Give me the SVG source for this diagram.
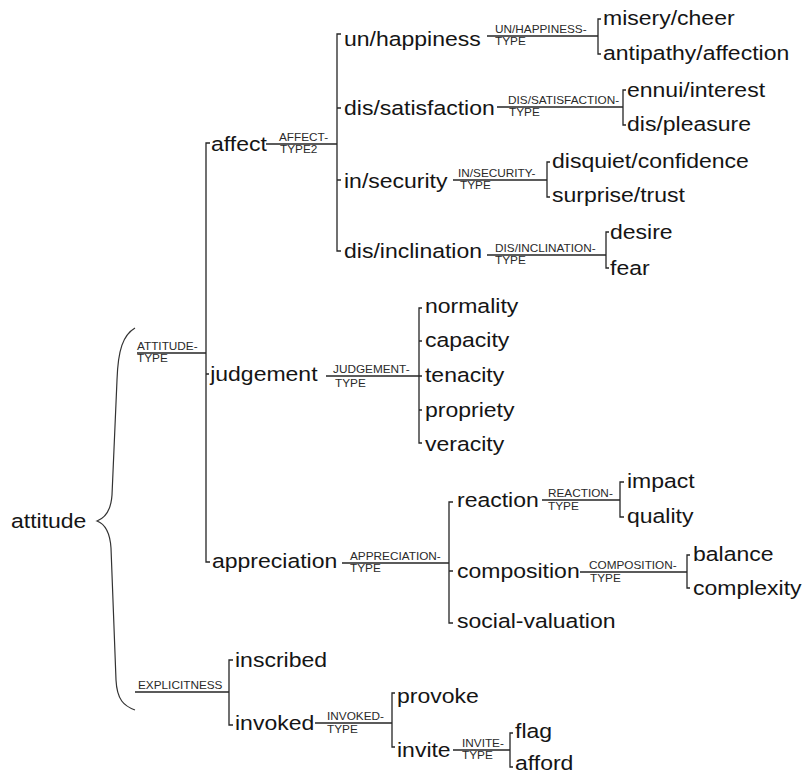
<svg xmlns="http://www.w3.org/2000/svg" width="803" height="779" viewBox="0 0 803 779">
  <style>
    .n { font-family: "Liberation Sans", Arial, sans-serif; font-size: 19.5px; fill: #151515;
         transform: scaleX(1.18); transform-box: fill-box; transform-origin: 0 0; }
    .s { font-family: "Liberation Sans", Arial, sans-serif; font-size: 10px; fill: #2a2a2a;
         transform: scaleX(1.18); transform-box: fill-box; transform-origin: 0 0; }
    .ln { fill: none; stroke: #262626; stroke-width: 1.3; }
    .br { fill: none; stroke: #333; stroke-width: 1.2; }
  </style>
  <rect width="803" height="779" fill="#ffffff"/>

  <!-- connectors: system lines, bracket bars and the brace -->
  <g id="connectors">
    <path class="br" d="M135,328 C123,335 118,350 117,380 L112,495 C111,510 105,518 97,521 C105,524 110,533 111,548 L116,680 C117,700 124,706 135,710"/>

    <!-- ATTITUDE-TYPE -->
    <path class="ln" d="M137,353 H206 M210,143 H206 V562 H210 M206,374 H209"/>
    <!-- AFFECT-TYPE2 -->
    <path class="ln" d="M266,144 H337 M341,34 H337 V251 H341 M337,108 H341 M337,180 H341"/>
    <!-- UN/HAPPINESS-TYPE -->
    <path class="ln" d="M487,36 H598 M601,19 H598 V54 H601"/>
    <!-- DIS/SATISFACTION-TYPE -->
    <path class="ln" d="M497,107 H623 M626,90 H623 V125 H626"/>
    <!-- IN/SECURITY-TYPE -->
    <path class="ln" d="M453,180 H547 M550,162 H547 V197 H550"/>
    <!-- DIS/INCLINATION-TYPE -->
    <path class="ln" d="M487,255 H606 M609,232 H606 V268 H609"/>
    <!-- JUDGEMENT-TYPE -->
    <path class="ln" d="M326,376 H422 M422,308 H419 V443 H422 M419,341 H422 M419,410 H422"/>
    <!-- APPRECIATION-TYPE -->
    <path class="ln" d="M342,563 H449 M453,502 H449 V623 H453 M449,571 H453"/>
    <!-- REACTION-TYPE -->
    <path class="ln" d="M542,500 H620 M624,482 H620 V517 H624"/>
    <!-- COMPOSITION-TYPE -->
    <path class="ln" d="M580,572 H687 M690,555 H687 V588 H690"/>
    <!-- EXPLICITNESS -->
    <path class="ln" d="M135,692 H229 M233,660 H229 V725 H233"/>
    <!-- INVOKED-TYPE -->
    <path class="ln" d="M315,723 H392 M395,693 H392 V747 H395"/>
    <!-- INVITE-TYPE -->
    <path class="ln" d="M453,750 H510 M513,733 H510 V767 H513"/>

    <g id="system-labels">
      <text class="s" x="137" y="350">ATTITUDE-</text>
      <text class="s" x="137" y="362">TYPE</text>
      <text class="s" x="279" y="141">AFFECT-</text>
      <text class="s" x="280" y="153">TYPE2</text>
      <text class="s" x="495" y="33">UN/HAPPINESS-</text>
      <text class="s" x="495" y="45">TYPE</text>
      <text class="s" x="508" y="104">DIS/SATISFACTION-</text>
      <text class="s" x="509" y="116">TYPE</text>
      <text class="s" x="458" y="177">IN/SECURITY-</text>
      <text class="s" x="460" y="189">TYPE</text>
      <text class="s" x="495" y="252">DIS/INCLINATION-</text>
      <text class="s" x="495" y="264">TYPE</text>
      <text class="s" x="333" y="373">JUDGEMENT-</text>
      <text class="s" x="335" y="387">TYPE</text>
      <text class="s" x="350" y="560">APPRECIATION-</text>
      <text class="s" x="350" y="572">TYPE</text>
      <text class="s" x="548" y="497">REACTION-</text>
      <text class="s" x="548" y="510">TYPE</text>
      <text class="s" x="589" y="569">COMPOSITION-</text>
      <text class="s" x="590" y="582">TYPE</text>
      <text class="s" x="138" y="689">EXPLICITNESS</text>
      <text class="s" x="327" y="720">INVOKED-</text>
      <text class="s" x="327" y="733">TYPE</text>
      <text class="s" x="462" y="747">INVITE-</text>
      <text class="s" x="462" y="759">TYPE</text>
    </g>
  </g>

  <!-- nodes -->
  <g id="attitude"><text class="n" x="11" y="528">attitude</text></g>

  <g id="affect"><text class="n" x="211" y="151">affect</text></g>
  <g id="un-happiness"><text class="n" x="344" y="46">un/happiness</text></g>
  <g id="misery-cheer"><text class="n" x="603" y="25">misery/cheer</text></g>
  <g id="antipathy-affection"><text class="n" x="603" y="60">antipathy/affection</text></g>
  <g id="dis-satisfaction"><text class="n" x="344" y="115">dis/satisfaction</text></g>
  <g id="ennui-interest"><text class="n" x="627" y="97">ennui/interest</text></g>
  <g id="dis-pleasure"><text class="n" x="627" y="131">dis/pleasure</text></g>
  <g id="in-security"><text class="n" x="344" y="188">in/security</text></g>
  <g id="disquiet-confidence"><text class="n" x="552" y="168">disquiet/confidence</text></g>
  <g id="surprise-trust"><text class="n" x="552" y="202">surprise/trust</text></g>
  <g id="dis-inclination"><text class="n" x="344" y="258">dis/inclination</text></g>
  <g id="desire"><text class="n" x="610" y="239">desire</text></g>
  <g id="fear"><text class="n" x="610" y="275">fear</text></g>

  <g id="judgement"><text class="n" x="210" y="381">judgement</text></g>
  <g id="normality"><text class="n" x="425" y="313">normality</text></g>
  <g id="capacity"><text class="n" x="425" y="347">capacity</text></g>
  <g id="tenacity"><text class="n" x="425" y="382">tenacity</text></g>
  <g id="propriety"><text class="n" x="425" y="417">propriety</text></g>
  <g id="veracity"><text class="n" x="425" y="451">veracity</text></g>

  <g id="appreciation"><text class="n" x="212" y="568">appreciation</text></g>
  <g id="reaction"><text class="n" x="457" y="507">reaction</text></g>
  <g id="impact"><text class="n" x="627" y="488">impact</text></g>
  <g id="quality"><text class="n" x="627" y="523">quality</text></g>
  <g id="composition"><text class="n" x="457" y="578">composition</text></g>
  <g id="balance"><text class="n" x="693" y="561">balance</text></g>
  <g id="complexity"><text class="n" x="693" y="595">complexity</text></g>
  <g id="social-valuation"><text class="n" x="457" y="628">social-valuation</text></g>

  <g id="inscribed"><text class="n" x="235" y="667">inscribed</text></g>
  <g id="invoked"><text class="n" x="235" y="730">invoked</text></g>
  <g id="provoke"><text class="n" x="397" y="703">provoke</text></g>
  <g id="invite"><text class="n" x="397" y="757">invite</text></g>
  <g id="flag"><text class="n" x="515" y="738">flag</text></g>
  <g id="afford"><text class="n" x="515" y="770">afford</text></g>
</svg>
